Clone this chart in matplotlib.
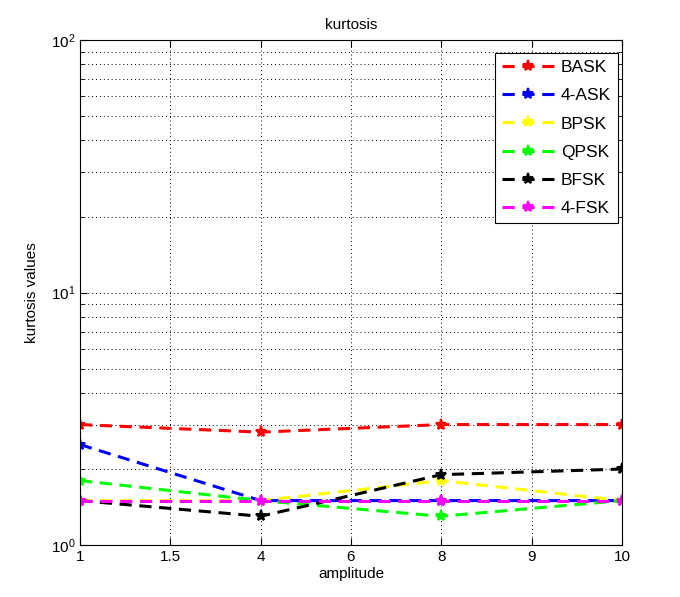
import matplotlib
matplotlib.use("Agg")
from matplotlib import pyplot as plt
from matplotlib.ticker import LogLocator, NullFormatter

# tick positions and labels along x (equally spaced, as in the original)
xpos = [1, 1.5, 2, 2.5, 3, 3.5, 4]
xlabels = ['1', '1.5', '4', '6', '8', '9', '10']

# data points sit at positions 1..4 (amplitude 1, 4, 8, 10)
x = [1, 2, 3, 4]
bask = [3.0, 2.8, 3.0, 3.0]
ask4 = [2.5, 1.5, 1.5, 1.5]
bpsk = [1.5, 1.5, 1.8, 1.5]
qpsk = [1.8, 1.5, 1.3, 1.5]
bfsk = [1.5, 1.3, 1.9, 2.0]
fsk4 = [1.5, 1.5, 1.5, 1.5]

names = ['BASK', '4-ASK', 'BPSK', 'QPSK', 'BFSK', '4-FSK']
colors = ['#ff0000', '#0000ff', '#ffff00', '#00ff00', '#000000', '#ff00ff']

plt.rcParams['font.family'] = 'Liberation Sans'
fig = plt.figure(figsize=(6.8, 5.97), dpi=100)
ax = fig.add_axes([0.1176, 0.087, 0.797, 0.846])

for ys, name, c in zip([bask, ask4, bpsk, qpsk, bfsk, fsk4], names, colors):
    ax.plot(x, ys, '--', color=c, lw=2.2, marker='*', ms=8, mew=1.5,
            dashes=(4, 2.5), label=name)

ax.set_yscale('log')
ax.set_ylim(1, 100)
ax.set_xlim(1, 4)
ax.set_xticks(xpos)
ax.set_xticklabels(xlabels)
ax.yaxis.set_minor_locator(LogLocator(base=10, subs=range(2, 10)))
ax.yaxis.set_minor_formatter(NullFormatter())
ax.grid(True, which='major', ls=(0, (1, 3)), color='k', lw=0.7)
ax.grid(True, which='minor', axis='y', ls=(0, (1, 3)), color='k', lw=0.7)
ax.tick_params(direction='in', which='both', top=True, right=True, labelsize=11)
ax.tick_params(which='minor', length=3)
ax.tick_params(which='major', length=5)
for s in ax.spines.values():
    s.set_linewidth(0.8)

ax.set_xlabel('amplitude', fontsize=11, labelpad=2)
ax.set_ylabel('kurtosis values', fontsize=11, labelpad=8)
ax.set_title('kurtosis', fontsize=11, pad=8)

leg = ax.legend(loc='upper right', bbox_to_anchor=(0.993, 0.974),
                borderaxespad=0, fontsize=12.5, fancybox=False, framealpha=1,
                edgecolor='k', handlelength=3.0, handletextpad=0.4,
                labelspacing=0.75)
leg.get_frame().set_linewidth(0.8)

fig.savefig('out.png')
